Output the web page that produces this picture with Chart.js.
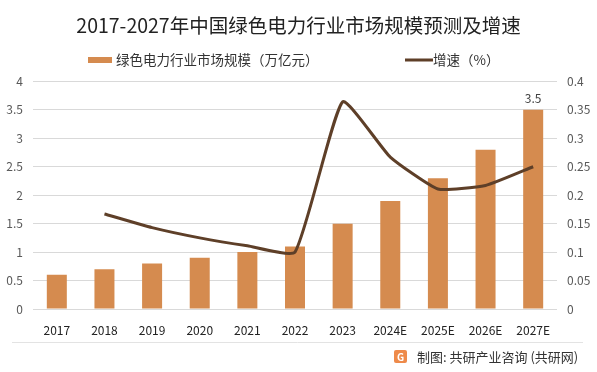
<!DOCTYPE html>
<html lang="zh">
<head>
  <meta charset="UTF-8">
  <title>2017-2027年中国绿色电力行业市场规模预测及增速</title>
  <style>
    html, body { margin: 0; padding: 0; background: #fff; }
    #wrap { position: relative; width: 597px; height: 372px; }
  </style>
</head>
<body>
  <div id="wrap">
    <canvas id="chart" width="597" height="372"></canvas>
  </div>

  <script src="https://cdn.jsdelivr.net/npm/chart.js"></script>
  <script>
    // 数据
    const years = ['2017', '2018', '2019', '2020', '2021', '2022', '2023', '2024E', '2025E', '2026E', '2027E'];
    const marketSize = [0.6, 0.7, 0.8, 0.9, 1.0, 1.1, 1.5, 1.9, 2.3, 2.8, 3.5];
    const growthRate = [null, 0.167, 0.143, 0.125, 0.111, 0.1, 0.364, 0.267, 0.211, 0.217, 0.25];
    const leftTicks = [0, 0.5, 1, 1.5, 2, 2.5, 3, 3.5, 4];
    const rightTicks = [0, 0.05, 0.1, 0.15, 0.2, 0.25, 0.3, 0.35, 0.4];

    const fontFamily = '"Microsoft YaHei", "Noto Sans CJK SC", "DejaVu Sans", sans-serif';
    const barColor = '#d58b4f';
    const lineColor = '#5e3f28';

    // 图例、最后一根柱子的数值标签、底部来源
    const extraPlugin = {
      id: 'extra',
      afterDatasetsDraw(chart) {
        const ctx = chart.ctx;
        const meta = chart.getDatasetMeta(1);
        const last = meta.data[meta.data.length - 1];
        ctx.save();
        ctx.font = '12px ' + fontFamily;
        ctx.fillStyle = '#404040';
        ctx.textAlign = 'center';
        ctx.textBaseline = 'bottom';
        ctx.fillText(String(marketSize[marketSize.length - 1]), last.x, last.y - 5);
        ctx.restore();
      },
      afterDraw(chart) {
        const ctx = chart.ctx;
        const ds = chart.data.datasets;
        ctx.save();
        // 图例
        ctx.font = '13.5px ' + fontFamily;
        ctx.textBaseline = 'middle';
        ctx.textAlign = 'left';
        ctx.fillStyle = barColor;
        ctx.fillRect(88, 57, 24, 6);
        ctx.fillStyle = '#333';
        ctx.fillText(ds[1].label, 116, 60);
        ctx.fillStyle = lineColor;
        ctx.fillRect(405, 58.5, 28, 3);
        ctx.fillStyle = '#333';
        ctx.fillText(ds[0].label, 433, 60);
        // 分隔线
        ctx.strokeStyle = '#e3e3e3';
        ctx.lineWidth = 1;
        ctx.beginPath();
        ctx.moveTo(12, 342.5);
        ctx.lineTo(583, 342.5);
        ctx.stroke();
        // logo
        ctx.fillStyle = '#ee8a4a';
        ctx.beginPath();
        ctx.roundRect(394, 350, 13, 13, 2);
        ctx.fill();
        ctx.fillStyle = '#fff';
        ctx.font = 'bold 10px ' + fontFamily;
        ctx.textAlign = 'center';
        ctx.fillText('G', 400.5, 357);
        // 来源
        ctx.fillStyle = '#333';
        ctx.font = '13px ' + fontFamily;
        ctx.textAlign = 'left';
        ctx.fillText('制图: 共研产业咨询 (共研网)', 417, 357);
        ctx.restore();
      }
    };

    const ctx = document.getElementById('chart').getContext('2d');
    new Chart(ctx, {
      data: {
        labels: years,
        datasets: [
          {
            type: 'line',
            label: '增速（%）',
            data: growthRate,
            yAxisID: 'y1',
            borderColor: lineColor,
            backgroundColor: lineColor,
            borderWidth: 3,
            pointRadius: 0,
            tension: 0.15,
            order: 0
          },
          {
            type: 'bar',
            label: '绿色电力行业市场规模（万亿元）',
            data: marketSize,
            yAxisID: 'y',
            backgroundColor: barColor,
            categoryPercentage: 0.84,
            barPercentage: 0.5,
            order: 1
          }
        ]
      },
      options: {
        responsive: false,
        animation: false,
        layout: { padding: { left: 0, right: 0, top: 2, bottom: 33 } },
        plugins: {
          title: {
            display: true,
            text: '2017-2027年中国绿色电力行业市场规模预测及增速',
            color: '#222',
            font: { family: fontFamily, size: 19.5, weight: 'normal' },
            padding: { top: 12, bottom: 44 }
          },
          legend: { display: false },
          tooltip: { enabled: false }
        },
        scales: {
          x: {
            grid: { display: false },
            border: { display: false },
            ticks: {
              color: '#222',
              font: { family: fontFamily, size: 12 },
              maxRotation: 0,
              padding: 6
            },
            afterFit(scale) { scale.height = 30; }
          },
          y: {
            position: 'left',
            min: 0,
            max: 4,
            afterBuildTicks(scale) { scale.ticks = leftTicks.map(v => ({ value: v })); },
            grid: { color: '#d9d9d9', drawTicks: false },
            border: { display: false },
            ticks: {
              color: '#595959',
              font: { family: fontFamily, size: 12 },
              padding: 10,
              callback: v => String(v)
            },
            afterFit(scale) { scale.width = 33; }
          },
          y1: {
            position: 'right',
            min: 0,
            max: 0.4,
            afterBuildTicks(scale) { scale.ticks = rightTicks.map(v => ({ value: v })); },
            grid: { display: false, drawTicks: false },
            border: { display: false },
            ticks: {
              color: '#595959',
              font: { family: fontFamily, size: 12 },
              padding: 10,
              callback: v => String(v)
            },
            afterFit(scale) { scale.width = 40; }
          }
        }
      },
      plugins: [extraPlugin]
    });
  </script>
</body>
</html>
